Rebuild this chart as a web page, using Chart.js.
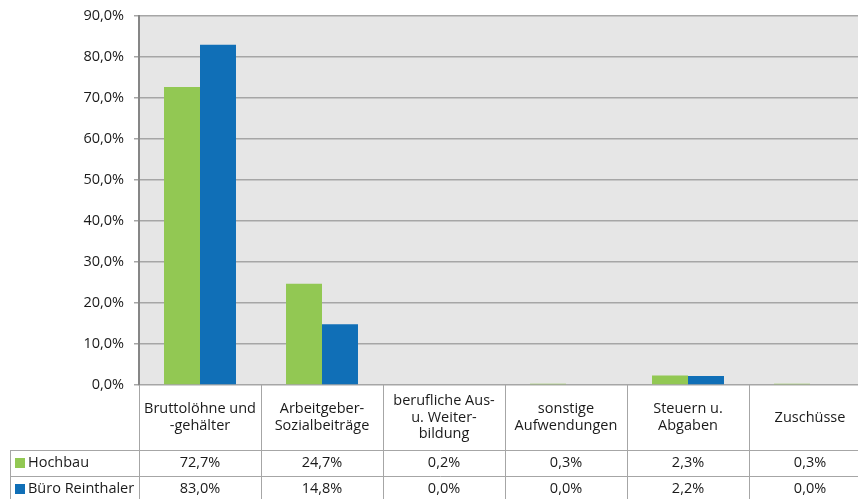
<!DOCTYPE html>
<html>
<head>
<meta charset="utf-8">
<script src="https://cdn.jsdelivr.net/npm/chart.js@4"></script>
<style>
  html, body { margin: 0; padding: 0; background: #fff; overflow: hidden; }
  #wrap { width: 872px; height: 499px; }
</style>
</head>
<body>
<div id="wrap"><canvas id="costChart" width="872" height="499"></canvas></div>
<script>
// ── Data ────────────────────────────────────────────────────
const categories = [
    ['Bruttolöhne und', '-gehälter'],
    ['Arbeitgeber-', 'Sozialbeiträge'],
    ['berufliche Aus-', 'u. Weiter-', 'bildung'],
    ['sonstige', 'Aufwendungen'],
    ['Steuern u.', 'Abgaben'],
    ['Zuschüsse']
];
const hochbau = [72.7, 24.7, 0.2, 0.3, 2.3, 0.3];
const bueroReinthaler = [83.0, 14.8, 0.0, 0.0, 2.2, 0.0];
const seriesNames = ['Hochbau', 'Büro Reinthaler'];
const yTicks = [0, 10, 20, 30, 40, 50, 60, 70, 80, 90];

const GREEN = '#92c853';
const BLUE = '#106fb7';
const TEXT = '#1a1a1a';
const FONT = '"Open Sans", Lato, sans-serif';
const FONT_SIZE = 14.5;
const fmt = v => v.toFixed(1).replace('.', ',') + '%';

// ── Plot background + data table below the axis ─────────────
const dataTable = {
    id: 'dataTable',
    beforeDraw(chart) {
        const { ctx, chartArea: a } = chart;
        ctx.save();
        ctx.fillStyle = '#e6e6e6';
        ctx.fillRect(a.left, a.top, a.right - a.left, a.bottom - a.top);
        ctx.restore();
    },
    afterDraw(chart) {
        const { ctx, chartArea: a } = chart;
        const x = chart.scales.x;
        const n = categories.length;
        const colW = (a.right - a.left) / n;
        const rowTop = a.bottom + 65;
        const rowH = 26;
        const legendLeft = 10;
        const bottom = chart.height;

        ctx.save();
        ctx.strokeStyle = '#a6a6a6';
        ctx.lineWidth = 1;
        ctx.beginPath();
        for (let i = 0; i <= n; i++) {
            const px = Math.round(a.left + i * colW) + 0.5;
            ctx.moveTo(px, a.bottom);
            ctx.lineTo(px, bottom);
        }
        ctx.moveTo(legendLeft + 0.5, rowTop);
        ctx.lineTo(legendLeft + 0.5, bottom);
        for (let r = 0; r < 2; r++) {
            const py = Math.round(rowTop + r * rowH) + 0.5;
            ctx.moveTo(legendLeft, py);
            ctx.lineTo(a.right, py);
        }
        ctx.stroke();

        ctx.fillStyle = TEXT;
        ctx.font = FONT_SIZE + 'px ' + FONT;
        ctx.textAlign = 'center';
        ctx.textBaseline = 'middle';
        const lineH = 16.8;
        const labelMid = (a.bottom + rowTop) / 2;
        categories.forEach((lines, i) => {
            const cx = x.getPixelForValue(i);
            const y0 = labelMid - (lines.length - 1) * lineH / 2;
            lines.forEach((t, k) => ctx.fillText(t, cx, y0 + k * lineH));
        });

        const rows = [hochbau, bueroReinthaler];
        const colors = [GREEN, BLUE];
        rows.forEach((vals, r) => {
            const cy = rowTop + r * rowH + rowH / 2;
            vals.forEach((v, i) => {
                ctx.textAlign = 'center';
                ctx.fillText(fmt(v), x.getPixelForValue(i), cy);
            });
            ctx.fillStyle = colors[r];
            ctx.fillRect(legendLeft + 5, cy - 5, 10, 10);
            ctx.fillStyle = TEXT;
            ctx.textAlign = 'left';
            ctx.fillText(seriesNames[r], legendLeft + 18, cy);
        });
        ctx.restore();
    }
};

// ── Bar chart ───────────────────────────────────────────────
new Chart(document.getElementById('costChart').getContext('2d'), {
    type: 'bar',
    data: {
        labels: categories,
        datasets: [{
            label: seriesNames[0],
            data: hochbau,
            backgroundColor: GREEN,
            barPercentage: 1,
            categoryPercentage: 0.59
        },
        {
            label: seriesNames[1],
            data: bueroReinthaler,
            backgroundColor: BLUE,
            barPercentage: 1,
            categoryPercentage: 0.59
        }]
    },
    options: {
        responsive: false,
        animation: false,
        layout: {
            padding: { top: 16, right: 1, bottom: 114, left: 0 }
        },
        plugins: {
            legend: { display: false },
            tooltip: { enabled: false }
        },
        scales: {
            x: {
                display: false
            },
            y: {
                min: 0,
                max: 90,
                afterFit: s => { s.width = 139; s.paddingTop = 0; },
                afterBuildTicks: s => { s.ticks = yTicks.map(v => ({ value: v })); },
                grid: {
                    color: '#a6a6a6',
                    lineWidth: 1.5,
                    tickLength: 5
                },
                border: {
                    color: '#868686',
                    width: 2
                },
                ticks: {
                    color: TEXT,
                    font: { family: FONT, size: FONT_SIZE },
                    padding: 10,
                    callback: v => fmt(v)
                }
            }
        }
    },
    plugins: [dataTable]
});
</script>
</body>
</html>
